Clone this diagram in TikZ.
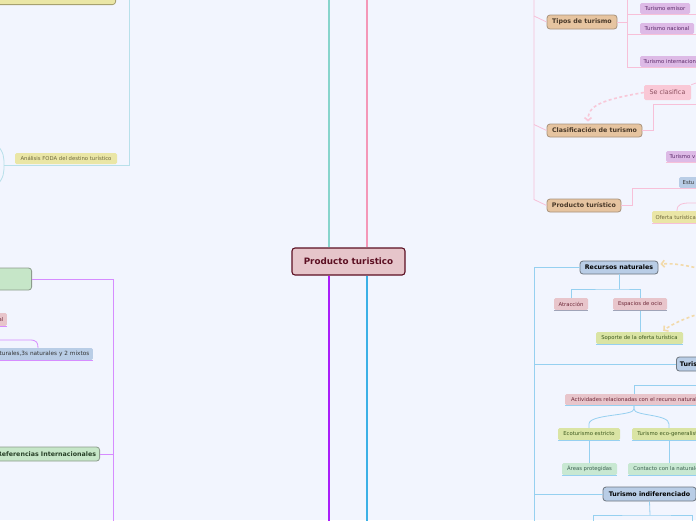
\documentclass[tikz,border=0pt]{standalone}
\usepackage{fontspec}
\setmainfont{DejaVu Sans}
\usetikzlibrary{arrows.meta}

\definecolor{bgc}{RGB}{242,245,254}
\definecolor{rootfill}{RGB}{230,197,202}
\definecolor{rootdraw}{RGB}{92,15,34}
\definecolor{tealc}{RGB}{136,212,204}
\definecolor{pinkc}{RGB}{244,151,184}
\definecolor{purplec}{RGB}{170,30,250}
\definecolor{bluec}{RGB}{59,176,230}
\definecolor{lpinkc}{RGB}{247,192,216}
\definecolor{lbluec}{RGB}{150,208,240}
\definecolor{lpurplec}{RGB}{214,140,255}
\definecolor{ltealc}{RGB}{184,224,234}
\definecolor{tanfill}{RGB}{230,196,160}
\definecolor{tandraw}{RGB}{168,146,124}
\definecolor{tantext}{RGB}{72,56,40}
\definecolor{bluefill}{RGB}{185,205,230}
\definecolor{bluedraw}{RGB}{110,118,128}
\definecolor{greenfill}{RGB}{198,230,200}
\definecolor{greendraw}{RGB}{140,156,140}
\definecolor{greentext}{RGB}{40,64,40}
\definecolor{yellowfill}{RGB}{234,230,166}
\definecolor{yellowdraw}{RGB}{166,160,112}
\definecolor{yellowtext}{RGB}{110,104,60}
\definecolor{pinkfill}{RGB}{232,197,203}
\definecolor{pinktext}{RGB}{110,40,56}
\definecolor{purplefill}{RGB}{221,186,230}
\definecolor{purpletext}{RGB}{90,40,104}
\definecolor{sefill}{RGB}{249,200,214}
\definecolor{setext}{RGB}{140,80,96}
\definecolor{ygfill}{RGB}{218,228,164}
\definecolor{ygtext}{RGB}{60,88,30}
\definecolor{lgfill}{RGB}{200,232,210}
\definecolor{lgtext}{RGB}{60,96,80}
\definecolor{grayline}{RGB}{160,164,184}
\definecolor{dashpinkc}{RGB}{248,200,216}
\definecolor{dashtanc}{RGB}{242,218,170}

\begin{document}
\begin{tikzpicture}[
    x=1pt, y=-1pt,
    every node/.style={font=\fontsize{5.3}{6}\selectfont, inner sep=0pt, align=center},
    root/.style={fill=rootfill, draw=rootdraw, line width=1.1pt, rounded corners=3pt,
        text=rootdraw, font=\fontsize{8.8}{10}\selectfont\bfseries},
    topic/.style={rounded corners=3pt, line width=0.8pt, font=\fontsize{6.3}{7}\selectfont\bfseries},
    tantopic/.style={topic, fill=tanfill, draw=tandraw, text=tantext},
    bluetopic/.style={topic, fill=bluefill, draw=bluedraw, text=black},
    greentopic/.style={topic, fill=greenfill, draw=greendraw, text=greentext},
    yellowtopic/.style={topic, fill=yellowfill, draw=yellowdraw},
    leaf/.style={rounded corners=1.5pt, fill=#1},
    pinkleaf/.style={leaf=pinkfill, text=pinktext},
    purpleleaf/.style={leaf=purplefill, text=purpletext},
    yellowleaf/.style={leaf=yellowfill, text=yellowtext},
    ygleaf/.style={leaf=ygfill, text=ygtext},
    lgleaf/.style={leaf=lgfill, text=lgtext},
    blueleaf/.style={leaf=bluefill, text=black!80},
    seleaf/.style={leaf=sefill, text=setext, font=\fontsize{6.4}{7}\selectfont},
    cutright/.style={anchor=west, inner xsep=3.5pt, text width=#1, align=left},
    cutleft/.style={anchor=east, inner xsep=3.5pt, text width=#1, align=right},
    mainline/.style={line width=1.8pt, #1},
    branch/.style={line width=0.8pt, #1},
    dashlink/.style={line width=1.6pt, #1, dash pattern=on 3pt off 2.5pt,
        -{Straight Barb[length=3pt, width=7pt]}},
]

\useasboundingbox (0,0) rectangle (696,520);
\fill[bgc] (0,0) rectangle (696,520);
\clip (0,0) rectangle (696,520);

% === Central topic ===
\node[root, minimum width=113pt, minimum height=27pt] (root) at (348.5,261.5) {Producto turistico};

\coordinate (tealtop) at (329,-5);
\coordinate (pinktop) at (367,-5);
\coordinate (purplebot) at (329,525);
\coordinate (bluebot) at (367,525);
\draw[mainline=tealc] (root.north -| tealtop) -- (tealtop);
\draw[mainline=pinkc] (root.north -| pinktop) -- (pinktop);
\draw[mainline=purplec] (root.south -| purplebot) -- (purplebot);
\draw[mainline=bluec] (root.south -| bluebot) -- (bluebot);

% === Upper left (teal) ===
\node[yellowtopic, anchor=south east, minimum width=160pt, minimum height=30pt] (ytop) at (116,5) {};
\node[yellowleaf, minimum width=102pt, minimum height=11pt] (foda) at (66,158.5) {Análisis FODA del destino turístico};

\coordinate (tltrunk) at (129,-5);
\coordinate (fodain) at (4,165);
\draw[branch=ltealc] (tltrunk) |- (fodain);
\draw[branch=ltealc] (-3,145) .. controls (4,152) and (4,158) .. (fodain)
    .. controls (4,172) and (4,178) .. (-3,185);

% === Lower left (purple) ===
\node[greentopic, anchor=east, minimum width=60pt, minimum height=22pt] (gbox) at (32,279) {};
\node[pinkleaf, cutleft=20pt, minimum height=13pt] (alnode) at (7,319.5) {al};
\node[blueleaf, cutleft=100pt, minimum height=12pt, font=\fontsize{5.75}{6}\selectfont] (culnode) at (93,354) {culturales,3s naturales y 2 mixtos};
\node[greentopic, cutleft=110pt, minimum height=14pt] (refint) at (100,454) {Referencias Internacionales};

\coordinate (lptrunk) at (113,525);
\coordinate (culin) at (38,348);
\draw[branch=lpurplec] (gbox.east) -| (lptrunk);
\draw[branch=lpurplec] (refint.east) -- (refint.east -| lptrunk);
\draw[branch=lpurplec] (alnode.south west) -- (alnode.south east);
\draw[branch=lpurplec] (culnode.south west) -- (culnode.south east);
\draw[branch=lpurplec] (-5,340) -- (30,340) .. controls (37,340) and (38,343) .. (culin);

% === Upper right (pink) ===
\node[tantopic, minimum width=70pt, minimum height=14pt] (tipos) at (582,22) {Tipos de turismo};
\node[tantopic, minimum width=95pt, minimum height=13pt] (clasif) at (594.5,130.5) {Clasificación de turismo};
\node[tantopic, minimum width=74pt, minimum height=13pt] (prod) at (584,205.5) {Producto turístico};

\node[purpleleaf, minimum width=50pt, minimum height=11pt] (emisor) at (665,8.5) {Turismo emisor};
\node[purpleleaf, minimum width=54pt, minimum height=11pt] (nacional) at (667,28.5) {Turismo nacional};
\node[purpleleaf, cutright=70pt, minimum height=11pt] (internac) at (640,61.5) {Turismo internacional};
\node[seleaf, minimum width=47pt, minimum height=15pt] (seclas) at (667.5,92.5) {Se clasifica};
\node[purpleleaf, cutright=40pt, minimum height=11pt] (turv) at (666,156.5) {Turismo v};
\node[blueleaf, cutright=30pt, minimum height=11pt] (estu) at (679,182.5) {Estu};
\node[yellowleaf, cutright=60pt, minimum height=12pt] (oferta) at (652,217) {Oferta turística};

\coordinate (trunk) at (534,-5);
\coordinate (tiposbar) at (627,-5);
\draw[branch=lpinkc] (trunk) -- ([yshift=6pt]prod.west -| trunk) -- (prod.west);
\draw[branch=lpinkc] ([yshift=6pt]tipos.west -| trunk) -- (tipos.west);
\draw[branch=lpinkc] ([yshift=6pt]clasif.west -| trunk) -- (clasif.west);

\draw[branch=lpinkc] (tipos.east) -- (tipos.east -| tiposbar);
\draw[branch=lpinkc] (tiposbar) -- (tiposbar |- internac.south);
\draw[branch=lpinkc] (tiposbar |- emisor.south) -- ++(80,0);
\draw[branch=lpinkc] (tiposbar |- nacional.south) -- ++(80,0);
\draw[branch=lpinkc] (tiposbar |- internac.south) -- ++(80,0);

\draw[branch=lpinkc] (clasif.east) -- ++(11,0) |- ++(60,-26.5);
\draw[branch=lpinkc] (seclas.north east) -- ++(8,-3);
\draw[dashlink=dashpinkc] (seclas.west) .. controls (600,100) and (588,106)
    .. ([xshift=-6.5pt, yshift=2pt]clasif.north);

\draw[branch=lpinkc] (prod.east) -- ++(11,0) |- (estu.south west) -- (estu.south east);
\draw[branch=lpinkc] (turv.south west) -- (turv.south east);
\draw[branch=lpinkc] (oferta.south west) -- (oferta.south east);
\draw[branch=lpinkc] ([xshift=25pt]oferta.north west) .. controls (677,204) and (682,203)
    .. (690,203) -- (700,203);

% === Lower right (blue) ===
\node[bluetopic, minimum width=78pt, minimum height=13pt] (recnat) at (619,267.5) {Recursos naturales};
\node[pinkleaf, minimum width=34pt, minimum height=12pt] (atrac) at (571,304) {Atracción};
\node[pinkleaf, minimum width=54pt, minimum height=12pt] (espac) at (640,304) {Espacios de ocio};
\node[ygleaf, minimum width=87pt, minimum height=12pt] (soporte) at (639.5,338) {Soporte de la oferta turística};
\node[bluetopic, cutright=40pt, minimum height=14pt] (turis) at (676,364) {Turis};
\node[pinkleaf, minimum width=138pt, minimum height=11pt] (activ) at (634,399.5) {Actividades relacionadas con el recurso natural};
\node[ygleaf, minimum width=62pt, minimum height=12pt] (ecoest) at (589,434) {Ecoturismo estricto};
\node[ygleaf, minimum width=74pt, minimum height=12pt] (ecogen) at (669,434) {Turismo eco-generalista};
\node[lgleaf, minimum width=55pt, minimum height=12pt] (areas) at (589.5,469) {Áreas protegidas};
\node[lgleaf, minimum width=82pt, minimum height=12pt] (contacto) at (669,469) {Contacto con la naturaleza};
\node[bluetopic, minimum width=93pt, minimum height=14pt] (turind) at (649.5,494) {Turismo indiferenciado};

\coordinate (bltrunk) at (534,525);
\draw[branch=lbluec, line width=1pt] (bltrunk |- recnat.west) -- (bltrunk);
\draw[branch=lbluec] (bltrunk |- recnat.west) -- (recnat.west);
\draw[branch=lbluec] (bltrunk |- turis.west) -- (turis.west);
\draw[branch=lbluec] (bltrunk |- turind.west) -- (turind.west);

\coordinate (rnjoin) at (619,289);
\draw[branch=lbluec] (recnat.south) -- (rnjoin);
\draw[branch=lbluec] (atrac.north) |- (rnjoin) -| (espac.north);
\draw[branch=lbluec] (espac.south) -- (espac.south |- soporte.north);
\draw[branch=grayline] (atrac.south west) -- (atrac.south east);
\draw[branch=grayline] (espac.south west) -- (espac.south east);

\coordinate (turisfeed) at (700,385);
\draw[branch=lbluec] (turisfeed) -| (activ.north);
\draw[branch=lbluec] (activ.south) -- ++(0,4) .. controls (634,416) and (589,414) .. (589,424) -- (ecoest.north);
\draw[branch=lbluec] (activ.south) -- ++(0,4) .. controls (634,416) and (669,414) .. (669,424) -- (ecogen.north);
\draw[branch=lbluec] (ecoest.south) -- (ecoest.south |- areas.north);
\draw[branch=lbluec] (ecogen.south) -- (contacto.north);
\foreach \n in {soporte, activ, ecoest, ecogen, areas, contacto}
    \draw[branch=lbluec] (\n.south west) -- (\n.south east);

\coordinate (tiljoin) at (650,515);
\coordinate (tibl) at (593,525);
\coordinate (tibr) at (692,525);
\draw[branch=lbluec] (turind.south) -- (tiljoin);
\draw[branch=lbluec] (tibl) |- (tiljoin) -| (tibr);

\draw[dashlink=dashtanc] (705,270) .. controls (690,266) and (675,263) .. ([xshift=2pt, yshift=3.5pt]recnat.east);
\draw[dashlink=dashtanc] (705,312) .. controls (685,318) and (672,324) .. ([xshift=-20pt, yshift=1pt]soporte.north east);

\end{tikzpicture}
\end{document}
